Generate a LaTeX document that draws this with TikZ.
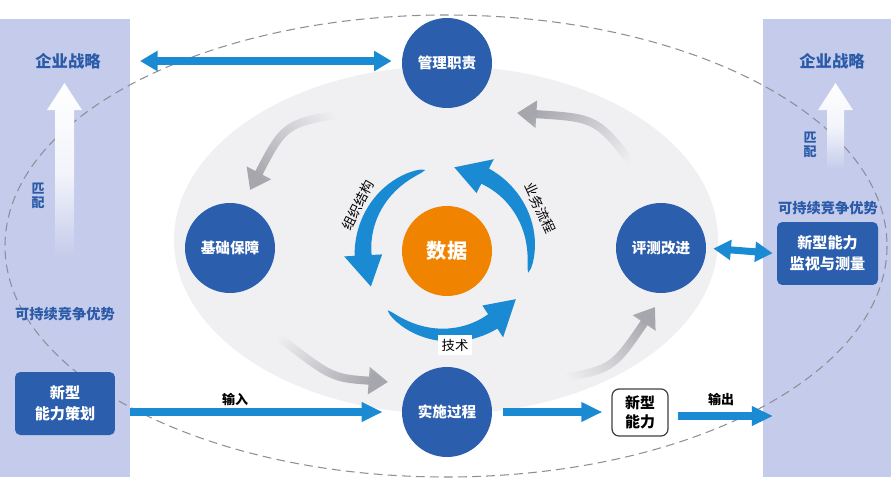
\documentclass[tikz,border=0pt]{standalone}
\usepackage{fontspec}
\setmainfont{Noto Sans CJK SC}
\usetikzlibrary{arrows.meta}
\usetikzlibrary{fadings}
\definecolor{panelblue}{HTML}{C4CBEB}
\definecolor{circblue}{HTML}{2C5EAE}
\definecolor{arrblue}{HTML}{1A8AD3}
\definecolor{dataorange}{HTML}{F08400}
\definecolor{ringgrey}{HTML}{F0F0F3}
\definecolor{arrgrey}{HTML}{A6A6AD}
\definecolor{dashgrey}{HTML}{8E8E96}
\definecolor{txtblue}{HTML}{2B5BA8}
\tikzset{
  stage/.style={circle,fill=circblue,text=white,minimum size=1.8cm,inner sep=0pt,font=\bfseries\fontsize{8.3}{10}\selectfont},
  bluebox/.style={rounded corners=3pt,fill=circblue,text=white,align=center,inner sep=0pt,font=\bfseries\fontsize{8.6}{12}\selectfont},
  paneltext/.style={text=txtblue,inner sep=1pt,font=\bfseries\fontsize{8.1}{10}\selectfont},
  flow/.style={arrblue,line width=4.3pt,-{Triangle[length=12pt,width=10.5pt]}},
  dblflow/.style={arrblue,line width=4pt,{Triangle[length=10pt,width=11pt]}-{Triangle[length=10pt,width=11pt]}},
  greyarr/.style={arrgrey,line width=4.6pt,-{Triangle[length=11pt,width=15pt]}},
  armlabel/.style={inner sep=1pt,font=\bfseries\fontsize{7.4}{9}\selectfont},
  ringlabel/.style={inner sep=1pt,font=\fontsize{7.6}{9}\selectfont},
}
\newcommand{\stagecirc}[4]{\node[stage] (#1) at (#2,#3) {#4};}
\newcommand{\greyarrow}[4]{\draw[greyarr,path fading=east,fading angle=#4] #1 .. controls #2 .. #3;}

\begin{document}
\begin{tikzpicture}[x=0.02cm,y=-0.02cm]
\useasboundingbox (0,0) rectangle (891,490);
% side panels
\fill[panelblue] (0,19) rectangle (130,477);
\fill[panelblue] (763,19) rectangle (891,477);
% dashed outer ring and grey inner ring
\draw[dashgrey,line width=0.6pt,dash pattern=on 5pt off 3pt] (446,246) ellipse [x radius=441,y radius=231];
\fill[ringgrey] (446,240) ellipse [x radius=272,y radius=174];
% white arrows in the panels
\shade[top color=white,bottom color=panelblue,middle color=white!80!panelblue]
  (64.5,83) -- (82,110) -- (74,110) -- (74,258) -- (55,258) -- (55,110) -- (47,110) -- cycle;
\shade[top color=white,bottom color=panelblue,middle color=white!80!panelblue]
  (835.5,83) -- (853,110) -- (844,110) -- (844,170) -- (827,170) -- (827,110) -- (818,110) -- cycle;
% panel labels
\node[paneltext,font=\bfseries\fontsize{9.3}{11}\selectfont] (stratL) at (68,61) {企业战略};
\node[paneltext,font=\bfseries\fontsize{9.3}{11}\selectfont] (stratR) at (832,61) {企业战略};
\node[paneltext,align=center,font=\bfseries\fontsize{7.4}{7.6}\selectfont] (matchL) at (38,196) {匹\\配};
\node[paneltext,align=center,font=\bfseries\fontsize{7.4}{7.6}\selectfont] (matchR) at (810,145) {匹\\配};
\node[paneltext] (advL) at (65,314) {可持续竞争优势};
\node[paneltext] (advR) at (828,208) {可持续竞争优势};
\node[bluebox,minimum width=2cm,minimum height=1.26cm] (plan) at (65,403.5) {新型\\能力策划};
\node[bluebox,minimum width=2.02cm,minimum height=1.26cm] (monitor) at (827.5,253.5) {新型能力\\监视与测量};
% grey cycle arrows
\greyarrow{(352,112)}{(285,123)}{(250,190)}{38}
\greyarrow{(270,330)}{(331,378)}{(388,382)}{155}
\greyarrow{(550,380)}{(612,370)}{(655,307)}{217}
\greyarrow{(637,170)}{(597,118)}{(517,113)}{-25}
% stages
\stagecirc{mgmt}{447}{63}{管理职责}
\stagecirc{base}{230}{248}{基础保障}
\stagecirc{eval}{661}{248}{评测改进}
\stagecirc{impl}{447}{412}{实施过程}
\node[stage,fill=dataorange,font=\bfseries\fontsize{11.5}{13}\selectfont] (data) at (447,251) {数据};
% blue arrows round the data
\begin{scope}[shift={(447,251)},yscale=-1]
\foreach \th in {105,225,345}
  \fill[arrblue] plot[domain=0:1,samples=25] ({\th+78*\x}:{84+8.5*sqrt(\x)})
    -- ({\th+78}:{103}) -- ({\th+100}:{84}) -- ({\th+78}:{65})
    -- plot[domain=1:0,samples=25] ({\th+78*\x}:{84-8.5*sqrt(\x)}) -- cycle;
\end{scope}
\node[ringlabel,rotate=63] (org) at (358,205) {组织结构};
\node[ringlabel,rotate=-65] (proc) at (540,208) {业务流程};
\node[ringlabel,fill=white,inner sep=2pt] (tech) at (455,345) {技术};
% new capability box
\node[draw=black!75,line width=0.7pt,rounded corners=4pt,fill=white,align=center,inner sep=0pt,
  minimum width=1.12cm,minimum height=0.94cm,font=\bfseries\fontsize{8.5}{11}\selectfont] (newcap) at (640,412.5) {新型\\能力};
% connectors
\coordinate (topL) at (140,61);
\coordinate (outR) at (773,416);
\draw[dblflow,shorten >=0.2cm] (topL) -- (mgmt.west |- topL);
\draw[dblflow,shorten <=0.14cm,shorten >=0.08cm] (eval.east) -- (monitor.west);
\draw[flow,shorten <=0.3cm,shorten >=0.38cm] (plan.east |- impl.west) -- (impl.west);
\draw[flow,shorten <=0.22cm,shorten >=0.18cm] (impl.east) -- (newcap.west |- impl.east);
\draw[flow,shorten <=0.18cm] (newcap.east |- outR) -- (outR);
\node[armlabel] (inlab) at (235,399) {输入};
\node[armlabel] (outlab) at (721,399) {输出};
\end{tikzpicture}
\end{document}
